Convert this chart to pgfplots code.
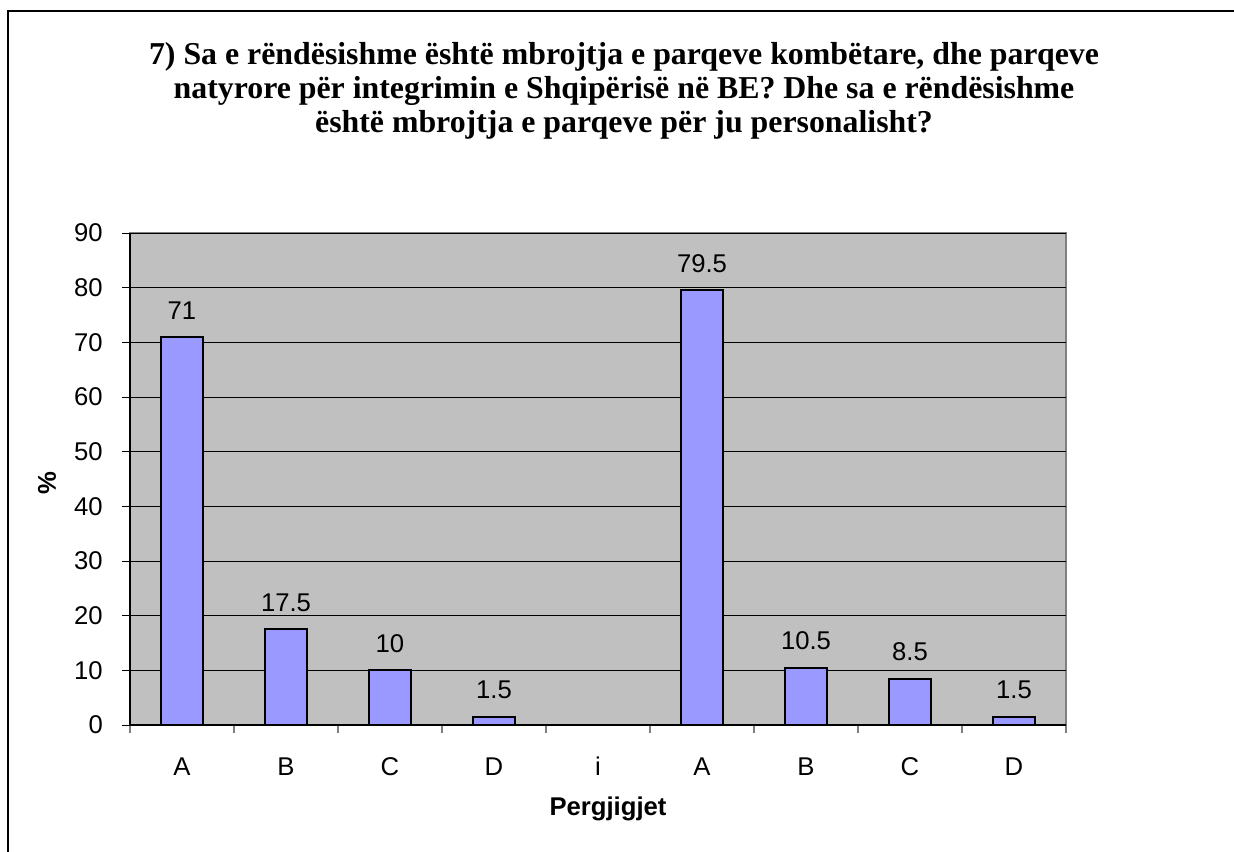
\documentclass[border=0pt]{standalone}
\usepackage{pgfplots}
\pgfplotsset{compat=1.18}
\usepackage{fontspec}
\setmainfont{Liberation Sans}
\newfontfamily\titlefont{Liberation Serif}
\definecolor{bgc}{HTML}{C0C0C0}
\definecolor{barc}{HTML}{9999FF}
\begin{document}
\begin{tikzpicture}[x=0.6pt,y=0.6pt]
\useasboundingbox (0,0) rectangle (1234,851);
\draw[line width=1.3pt] (8,-20) rectangle (1260,840);
\node[anchor=north, align=center, font=\titlefont\bfseries\fontsize{19.1}{20.2}\selectfont] at (624,814)
 {7) Sa e rëndësishme është mbrojtja e parqeve kombëtare, dhe parqeve\\
  natyrore për integrimin e Shqipërisë në BE? Dhe sa e rëndësishme\\
  është mbrojtja e parqeve për ju personalisht?};
\begin{axis}[
  at={(78pt,75.6pt)}, anchor=south west,
  scale only axis, width=561.6pt, height=295.2pt,
  xmin=-0.5, xmax=8.5, ymin=0, ymax=90,
  axis lines*=left, axis line style={-, black, line width=0.8pt},
  axis background/.style={fill=bgc, draw=gray, line width=0.8pt},
  ytick={0,10,...,90},
  xtick={0,...,8},
  xticklabels={A,B,C,D,i,A,B,C,D},
  minor xtick={-0.5,0.5,...,8.5},
  major x tick style={draw=none},
  tick align=outside,
  major tick length=4.8pt, minor tick length=4.8pt,
  tick style={black, line width=0.6pt},
  minor tick style={gray, line width=0.8pt},
  ymajorgrids, major grid style={black, line width=0.6pt},
  tick label style={font=\fontsize{15.4}{18}\selectfont},
  yticklabel style={xshift=-8pt},
  xticklabel style={yshift=-11pt, text height=11pt, text depth=0pt},
  /pgf/number format/assume math mode=true,
  ybar, bar width=25.2pt,
  nodes near coords,
  every node near coord/.append style={font=\fontsize{15.4}{18}\selectfont, inner sep=0pt, yshift=10pt},
]
\addplot[draw=black, fill=barc, line width=1.2pt] coordinates {
 (0,71) (1,17.5) (2,10) (3,1.5) (5,79.5) (6,10.5) (7,8.5) (8,1.5)};
\end{axis}
\node[font=\bfseries\fontsize{15.4}{18}\selectfont, rotate=90] at (47,368) {\%};
\node[font=\bfseries\fontsize{15.4}{18}\selectfont] at (608,42) {Pergjigjet};
\end{tikzpicture}
\end{document}
